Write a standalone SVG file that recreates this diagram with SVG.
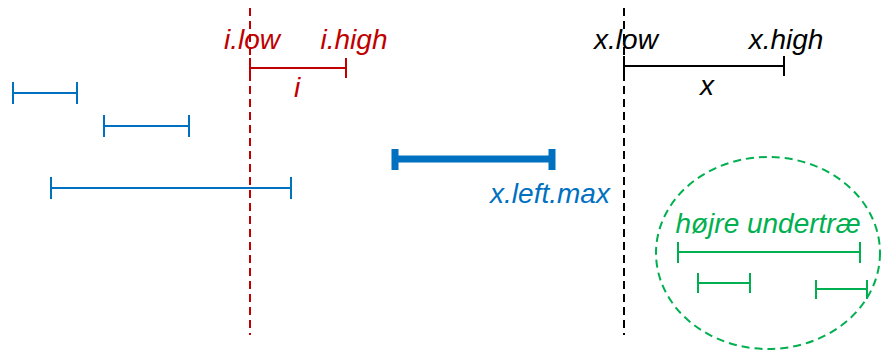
<svg xmlns="http://www.w3.org/2000/svg" width="883" height="351" viewBox="0 0 883 351">
<style>
text{font-family:"Liberation Sans",Arial,sans-serif;font-style:italic;font-size:28px;text-anchor:middle}
.red{stroke:#C00000;fill:none;stroke-width:2}
.blk{stroke:#000;fill:none;stroke-width:2}
.blue{stroke:#0070C0;fill:none;stroke-width:2}
.grn{stroke:#00B050;fill:none;stroke-width:2}
.dash{stroke-dasharray:8 5}
</style>
<rect width="883" height="351" fill="#fff"/>
<g id="connectors">
<line class="red dash" x1="250" y1="8" x2="250" y2="335"/>
<line class="blk dash" x1="624" y1="8" x2="624" y2="335"/>
</g>
<g id="interval-i">
<path class="red" d="M250 68H346M250 58V78M346 58V78"/>
<text x="252" y="49" fill="#C00000">i.low</text>
<text x="354" y="49" fill="#C00000">i.high</text>
<text x="297" y="97" fill="#C00000">i</text>
</g>
<g id="interval-x">
<path class="blk" d="M624 66H784M624 56V76M784 56V76"/>
<text x="626" y="49" fill="#000">x.low</text>
<text x="786" y="49" fill="#000">x.high</text>
<text x="707" y="95" fill="#000">x</text>
</g>
<g id="blue-intervals">
<path class="blue" d="M13 93H77M13 82V104M77 82V104"/>
<path class="blue" d="M104 126H189M104 115V137M189 115V137"/>
<path class="blue" d="M51 188H291M51 177V199M291 177V199"/>
</g>
<g id="left-max">
<path stroke="#0070C0" fill="none" stroke-width="7" d="M395 159H552M395 149V170M552 149V170"/>
<text x="550" y="203" fill="#0070C0">x.left.max</text>
</g>
<g id="right-subtree">
<ellipse class="grn dash" cx="768" cy="253" rx="112" ry="96"/>
<text x="768" y="233" fill="#00B050">højre undertræ</text>
<path class="grn" d="M678 252H860M678 242V263M860 242V263"/>
<path class="grn" d="M698 283H750M698 273V293M750 273V293"/>
<path class="grn" d="M816 289H867M816 280V299M867 280V299"/>
</g>
</svg>
